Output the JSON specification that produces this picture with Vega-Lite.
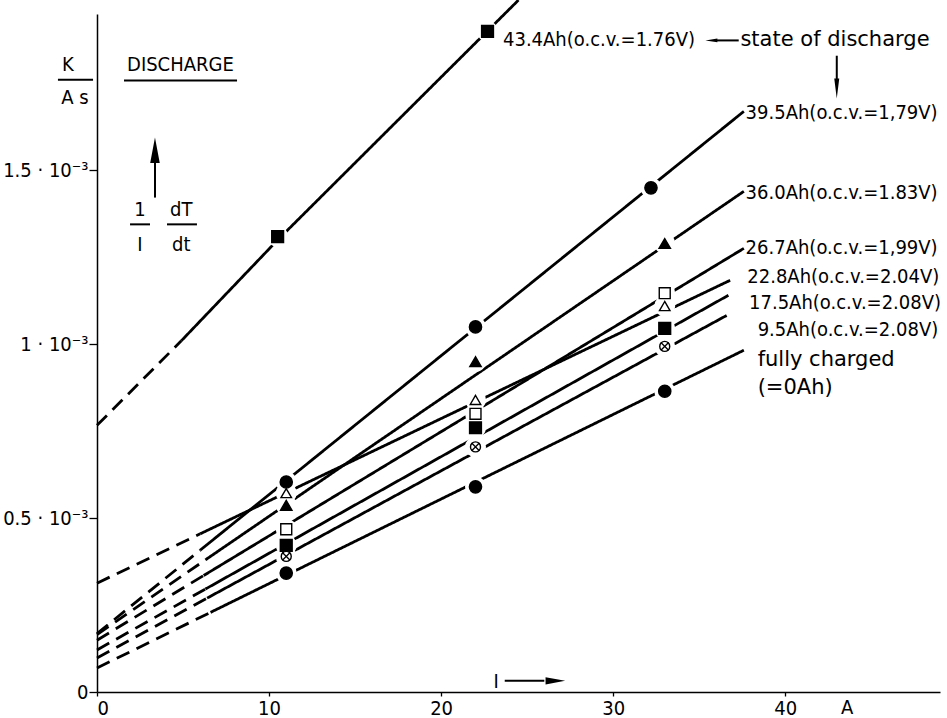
{
  "$schema": "https://vega.github.io/schema/vega-lite/v6.json",
  "width": 843,
  "height": 678,
  "autosize": {"type": "none"},
  "padding": {"left": 97, "top": 14, "right": 7, "bottom": 26},
  "background": "white",
  "config": {
    "font": "DejaVu Sans Condensed",
    "view": {"stroke": null},
    "axis": {"grid": false, "domainColor": "black", "domainWidth": 1.5, "tickColor": "black", "tickWidth": 1.3, "labelColor": "black", "labelFont": "DejaVu Sans Condensed", "labelFontSize": 20, "title": null}
  },
  "datasets": {
    "lines": [
      {"s": "43.4", "part": "dashed", "x": 0, "y": 0.000767},
      {"s": "43.4", "part": "dashed", "x": 4.9, "y": 0.00101},
      {"s": "43.4", "part": "solid", "x": 4.9, "y": 0.00101},
      {"s": "43.4", "part": "solid", "x": 10.5, "y": 0.0013},
      {"s": "43.4", "part": "solid", "x": 24.5, "y": 0.00199},
      {"s": "39.5", "part": "dashed", "x": 0, "y": 0.000168},
      {"s": "39.5", "part": "dashed", "x": 6.0, "y": 0.000408},
      {"s": "39.5", "part": "solid", "x": 6.0, "y": 0.000408},
      {"s": "39.5", "part": "solid", "x": 37.6, "y": 0.00167},
      {"s": "36.0", "part": "dashed", "x": 0, "y": 0.000165},
      {"s": "36.0", "part": "dashed", "x": 6.3, "y": 0.00038},
      {"s": "36.0", "part": "solid", "x": 6.3, "y": 0.00038},
      {"s": "36.0", "part": "solid", "x": 37.6, "y": 0.00144},
      {"s": "26.7", "part": "dashed", "x": 0, "y": 0.000149},
      {"s": "26.7", "part": "dashed", "x": 6.2, "y": 0.000335},
      {"s": "26.7", "part": "solid", "x": 6.2, "y": 0.000335},
      {"s": "26.7", "part": "solid", "x": 37.6, "y": 0.001276},
      {"s": "22.8", "part": "dashed", "x": 0, "y": 0.000313},
      {"s": "22.8", "part": "dashed", "x": 6.0, "y": 0.000455},
      {"s": "22.8", "part": "solid", "x": 6.0, "y": 0.000455},
      {"s": "22.8", "part": "solid", "x": 36.8, "y": 0.001184},
      {"s": "17.5", "part": "dashed", "x": 0, "y": 0.000121},
      {"s": "17.5", "part": "dashed", "x": 6.3, "y": 0.000296},
      {"s": "17.5", "part": "solid", "x": 6.3, "y": 0.000296},
      {"s": "17.5", "part": "solid", "x": 36.7, "y": 0.001141},
      {"s": "9.5", "part": "dashed", "x": 0, "y": 0.000098},
      {"s": "9.5", "part": "dashed", "x": 6.4, "y": 0.000270},
      {"s": "9.5", "part": "solid", "x": 6.4, "y": 0.000270},
      {"s": "9.5", "part": "solid", "x": 36.6, "y": 0.001083},
      {"s": "0", "part": "dashed", "x": 0, "y": 0.000069},
      {"s": "0", "part": "dashed", "x": 6.6, "y": 0.000229},
      {"s": "0", "part": "solid", "x": 6.6, "y": 0.000229},
      {"s": "0", "part": "solid", "x": 37.6, "y": 0.000983}
    ],
    "points": [
      {"s": "43.4", "m": "sq", "x": 10.5, "y": 0.00131},
      {"s": "43.4", "m": "sq", "x": 22.7, "y": 0.0019},
      {"s": "39.5", "m": "disc", "x": 11, "y": 0.000604},
      {"s": "39.5", "m": "disc", "x": 22, "y": 0.00105},
      {"s": "39.5", "m": "disc", "x": 32.2, "y": 0.00145},
      {"s": "36.0", "m": "tri", "x": 11, "y": 0.000537},
      {"s": "36.0", "m": "tri", "x": 22, "y": 0.00095},
      {"s": "36.0", "m": "tri", "x": 33, "y": 0.00129},
      {"s": "26.7", "m": "osq", "x": 11, "y": 0.000468},
      {"s": "26.7", "m": "osq", "x": 22, "y": 0.0008},
      {"s": "26.7", "m": "osq", "x": 33, "y": 0.001147},
      {"s": "22.8", "m": "otri", "x": 11, "y": 0.000572},
      {"s": "22.8", "m": "otri", "x": 22, "y": 0.00084},
      {"s": "22.8", "m": "otri", "x": 33, "y": 0.00111},
      {"s": "17.5", "m": "sq", "x": 11, "y": 0.000422},
      {"s": "17.5", "m": "sq", "x": 22, "y": 0.00076},
      {"s": "17.5", "m": "sq", "x": 33, "y": 0.001046},
      {"s": "9.5", "m": "otimes", "x": 11, "y": 0.00039},
      {"s": "9.5", "m": "otimes", "x": 22, "y": 0.000705},
      {"s": "9.5", "m": "otimes", "x": 33, "y": 0.000994},
      {"s": "0", "m": "disc", "x": 11, "y": 0.000342},
      {"s": "0", "m": "disc", "x": 22, "y": 0.00059},
      {"s": "0", "m": "disc", "x": 33, "y": 0.000865}
    ],
    "curveLabels": [
      {"t": "43.4Ah(o.c.v.=1.76V)", "x": 23.6, "y": 0.001874},
      {"t": "39.5Ah(o.c.v.=1,79V)", "x": 37.7, "y": 0.001664},
      {"t": "36.0Ah(o.c.v.=1.83V)", "x": 37.7, "y": 0.001434},
      {"t": "26.7Ah(o.c.v.=1,99V)", "x": 37.7, "y": 0.001276},
      {"t": "22.8Ah(o.c.v.=2.04V)", "x": 37.8, "y": 0.001193},
      {"t": "17.5Ah(o.c.v.=2.08V)", "x": 37.9, "y": 0.001118},
      {"t": "9.5Ah(o.c.v.=2.08V)", "x": 38.4, "y": 0.00104}
    ],
    "wordLabels": [
      {"t": "state of discharge", "x": 37.4, "y": 0.001874},
      {"t": "fully charged", "x": 38.4, "y": 0.000954},
      {"t": "(=0Ah)", "x": 38.4, "y": 0.000874}
    ],
    "notes": [
      {"t": "K", "x": -1.69, "y": 0.001802},
      {"t": "A s", "x": -1.28, "y": 0.001707},
      {"t": "DISCHARGE", "x": 4.85, "y": 0.001802},
      {"t": "1", "x": 2.5, "y": 0.001385},
      {"t": "I", "x": 2.5, "y": 0.001287},
      {"t": "dT", "x": 4.9, "y": 0.001385},
      {"t": "dt", "x": 4.9, "y": 0.001287},
      {"t": "I", "x": 23.2, "y": 0.00003},
      {"t": "A", "x": 43.6, "y": -0.000046}
    ],
    "rules": [
      {"x": -2.27, "x2": -0.23, "y": 0.001761, "y2": 0.001761},
      {"x": 1.57, "x2": 8.14, "y": 0.001759, "y2": 0.001759},
      {"x": 1.92, "x2": 3.08, "y": 0.001345, "y2": 0.001345},
      {"x": 4.07, "x2": 5.81, "y": 0.001345, "y2": 0.001345},
      {"x": 3.37, "x2": 3.37, "y": 0.001422, "y2": 0.00153},
      {"x": 23.7, "x2": 26.0, "y": 0.000032, "y2": 0.000032},
      {"x": 36.0, "x2": 37.3, "y": 0.001874, "y2": 0.001874},
      {"x": 43.0, "x2": 43.0, "y": 0.00183, "y2": 0.00175}
    ],
    "upHeads": [{"x": 3.37, "y": 0.001549}],
    "downHeads": [{"x": 43.0, "y": 0.001743}],
    "rightHeads": [{"x": 26.5, "y": 0.000032}],
    "leftHeads": [{"x": 35.8, "y": 0.001874}]
  },
  "layer": [
    {
      "data": {"name": "lines"},
      "mark": {"type": "line", "color": "black", "strokeWidth": 2.8, "strokeCap": "butt"},
      "encoding": {
        "x": {"field": "x", "type": "quantitative", "scale": {"domain": [0, 49], "nice": false, "zero": false},
              "axis": {"values": [0, 10, 20, 30, 40], "tickSize": 4, "labelPadding": 2}},
        "y": {"field": "y", "type": "quantitative", "scale": {"domain": [0, 0.00195], "nice": false},
              "axis": {"values": [0, 0.0005, 0.001, 0.0015], "tickSize": 8, "labelPadding": 1,
                       "labelExpr": "datum.value == 0 ? '0' : datum.value == 0.0005 ? '0.5 · 10⁻³' : datum.value == 0.001 ? '1 · 10⁻³' : '1.5 · 10⁻³'"}},
        "detail": [{"field": "s"}, {"field": "part"}],
        "strokeDash": {"field": "part", "type": "nominal", "scale": {"domain": ["dashed", "solid"], "range": [[14, 8], [1, 0]]}, "legend": null}
      }
    },
    {
      "data": {"name": "points"},
      "mark": {"type": "point", "shape": "circle", "filled": true, "color": "white", "opacity": 1, "size": 440},
      "encoding": {
        "x": {"field": "x", "type": "quantitative"},
        "y": {"field": "y", "type": "quantitative"}
      }
    },
    {
      "data": {"name": "points"},
      "mark": {"type": "point", "stroke": "black", "strokeWidth": 1.4, "opacity": 1, "fillOpacity": 1},
      "encoding": {
        "x": {"field": "x", "type": "quantitative"},
        "y": {"field": "y", "type": "quantitative"},
        "shape": {"field": "m", "type": "nominal", "scale": {"domain": ["disc", "sq", "tri", "osq", "otri", "otimes"], "range": ["circle", "square", "triangle-up", "square", "triangle-up", "circle"]}, "legend": null},
        "fill": {"field": "m", "type": "nominal", "scale": {"domain": ["disc", "sq", "tri", "osq", "otri", "otimes"], "range": ["black", "black", "black", "white", "white", "white"]}, "legend": null},
        "size": {"field": "m", "type": "nominal", "scale": {"domain": ["disc", "sq", "tri", "osq", "otri", "otimes"], "range": [150, 100, 130, 85, 110, 120]}, "legend": null}
      }
    },
    {
      "data": {"name": "points"},
      "transform": [{"filter": "datum.m == 'otimes'"}],
      "mark": {"type": "point", "shape": "M-0.7,-0.7L0.7,0.7M0.7,-0.7L-0.7,0.7", "filled": false, "stroke": "black", "strokeWidth": 1.3, "size": 120, "opacity": 1},
      "encoding": {
        "x": {"field": "x", "type": "quantitative"},
        "y": {"field": "y", "type": "quantitative"}
      }
    },
    {
      "data": {"name": "rules"},
      "mark": {"type": "rule", "color": "black", "strokeWidth": 2},
      "encoding": {
        "x": {"field": "x", "type": "quantitative"},
        "x2": {"field": "x2"},
        "y": {"field": "y", "type": "quantitative"},
        "y2": {"field": "y2"}
      }
    },
    {
      "data": {"name": "upHeads"},
      "mark": {"type": "point", "shape": "M0,-1L0.3,0.6L-0.3,0.6Z", "filled": true, "color": "black", "opacity": 1, "size": 1024},
      "encoding": {"x": {"field": "x", "type": "quantitative"}, "y": {"field": "y", "type": "quantitative"}}
    },
    {
      "data": {"name": "downHeads"},
      "mark": {"type": "point", "shape": "M0,1L0.2,-0.6L-0.2,-0.6Z", "filled": true, "color": "black", "opacity": 1, "size": 625},
      "encoding": {"x": {"field": "x", "type": "quantitative"}, "y": {"field": "y", "type": "quantitative"}}
    },
    {
      "data": {"name": "rightHeads"},
      "mark": {"type": "point", "shape": "M1,0L-0.6,0.3L-0.6,-0.3Z", "filled": true, "color": "black", "opacity": 1, "size": 600},
      "encoding": {"x": {"field": "x", "type": "quantitative"}, "y": {"field": "y", "type": "quantitative"}}
    },
    {
      "data": {"name": "leftHeads"},
      "mark": {"type": "point", "shape": "M-1,0L0.6,0.25L0.6,-0.25Z", "filled": true, "color": "black", "opacity": 1, "size": 225},
      "encoding": {"x": {"field": "x", "type": "quantitative"}, "y": {"field": "y", "type": "quantitative"}}
    },
    {
      "data": {"name": "curveLabels"},
      "mark": {"type": "text", "color": "black", "fontSize": 20, "font": "DejaVu Sans Condensed", "baseline": "middle", "align": "left"},
      "encoding": {
        "x": {"field": "x", "type": "quantitative"},
        "y": {"field": "y", "type": "quantitative"},
        "text": {"field": "t"}
      }
    },
    {
      "data": {"name": "wordLabels"},
      "mark": {"type": "text", "color": "black", "fontSize": 21, "font": "DejaVu Sans", "baseline": "middle", "align": "left"},
      "encoding": {
        "x": {"field": "x", "type": "quantitative"},
        "y": {"field": "y", "type": "quantitative"},
        "text": {"field": "t"}
      }
    },
    {
      "data": {"name": "notes"},
      "mark": {"type": "text", "color": "black", "fontSize": 20, "font": "DejaVu Sans Condensed", "baseline": "middle", "align": "center"},
      "encoding": {
        "x": {"field": "x", "type": "quantitative"},
        "y": {"field": "y", "type": "quantitative"},
        "text": {"field": "t"}
      }
    }
  ]
}
